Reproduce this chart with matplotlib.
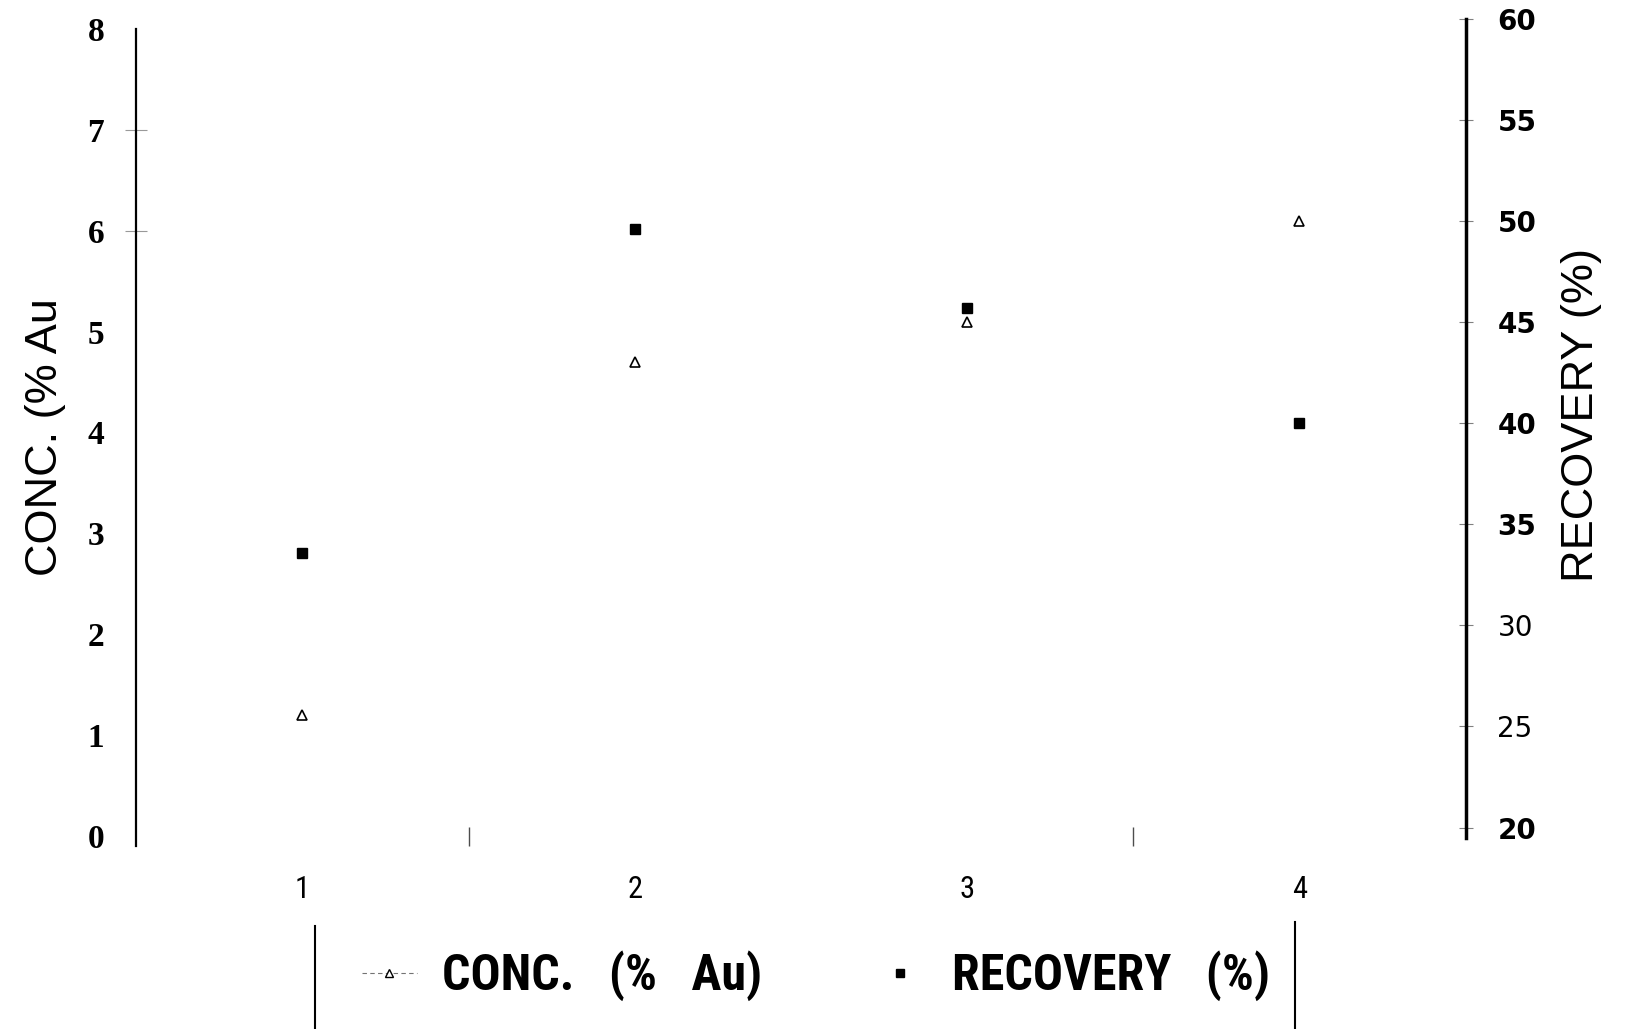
import matplotlib
matplotlib.use('Agg')
import matplotlib.pyplot as plt
from matplotlib.lines import Line2D

# values
samples = [1, 2, 3, 4]
sample_labels = ['1', '2', '3', '4']
conc_au = [1.2, 4.7, 5.1, 6.1]        # CONC. (% Au), left axis
recovery = [33.6, 49.6, 45.7, 40.0]   # RECOVERY (%), right axis
conc_ticks = [0, 1, 2, 3, 4, 5, 6, 7, 8]
rec_ticks = [20, 25, 30, 35, 40, 45, 50, 55, 60]

narrow = ['Liberation Sans Narrow', 'Roboto Condensed', 'Archivo Narrow', 'PT Sans Narrow',
          'IBM Plex Sans Condensed', 'DejaVu Sans']

fig = plt.figure(figsize=(16.32, 10.29), dpi=100)
ax = fig.add_axes([0.0835, 0.1778, 0.8145, 0.794])
ax2 = fig.add_axes([0.0835, 0.1856, 0.8145, 0.7962])
ax2.patch.set_visible(False)

# left axis: concentration
ax.plot(samples, conc_au, ls='none', marker='^', ms=7.5, mfc='white', mec='black', mew=1.2)
ax.set_xlim(0.5, 4.5)
ax.set_ylim(-0.1, 8)
ax.set_yticks(conc_ticks)
ax.set_yticklabels([str(t) for t in conc_ticks], family='Liberation Serif', weight='bold', size=24)
ax.tick_params(axis='y', direction='inout', length=16, width=0.8, color='0.6', pad=15)
for i, tk in enumerate(ax.yaxis.get_major_ticks()):
    if conc_ticks[i] not in (6, 7):
        tk.tick1line.set_visible(False)
ax.set_xticks(samples)
ax.set_xticklabels(sample_labels, family=narrow, size=22)
ax.tick_params(axis='x', length=0, pad=21)
ax.set_xticks([1.5, 3.5], minor=True)
ax.tick_params(axis='x', which='minor', direction='in', length=14, width=1, color='0.3')
for s in ['top', 'right', 'bottom']:
    ax.spines[s].set_visible(False)
ax.spines['left'].set_linewidth(1.6)
ax.set_ylabel('CONC. (% Au', family='Liberation Sans', size=32.5)
ax.yaxis.set_label_coords(-0.053, 0.5)

# right axis: recovery
ax2.plot(samples, recovery, ls='none', marker='s', ms=7.5, color='black')
ax2.set_xlim(0.5, 4.5)
ax2.set_ylim(19.48, 60)
ax2.yaxis.tick_right()
ax2.yaxis.set_label_position('right')
ax2.set_yticks(rec_ticks)
ax2.set_yticklabels([str(t) for t in rec_ticks], family='DejaVu Sans', weight='bold', size=20)
for lab, t in zip(ax2.get_yticklabels(), rec_ticks):
    if t in (25, 30):
        lab.set_fontweight('normal')
ax2.tick_params(axis='y', direction='inout', length=10, width=0.8, color='0.5', pad=18)
ax2.set_xticks([])
for s in ['top', 'left', 'bottom']:
    ax2.spines[s].set_visible(False)
ax2.spines['right'].set_linewidth(2.5)
ax2.set_ylabel('RECOVERY (%)', family='Liberation Sans', size=32.5)
ax2.yaxis.set_label_coords(1.072, 0.516)

# legend at the bottom
h1 = Line2D([], [], ls=(0, (4, 3)), color='0.45', lw=0.8, marker='^', ms=6,
            mfc='white', mec='black')
h2 = Line2D([], [], ls='none', marker='s', ms=6, color='black')
fig.legend([h1, h2], ['CONC.   (%   Au)', 'RECOVERY   (%)'], loc='center',
           bbox_to_anchor=(0.5, 0.0515), ncol=2, frameon=False,
           prop=dict(family=narrow, weight='bold', size=36),
           handlelength=1.1, handletextpad=0.5, columnspacing=2.2)
fig.add_artist(Line2D([315 / 1632] * 2, [0, 1 - 926 / 1029], transform=fig.transFigure,
                      color='black', lw=1.5))
fig.add_artist(Line2D([1295 / 1632] * 2, [0, 1 - 922 / 1029], transform=fig.transFigure,
                      color='black', lw=1.5))

fig.savefig('out.png', dpi=100)
